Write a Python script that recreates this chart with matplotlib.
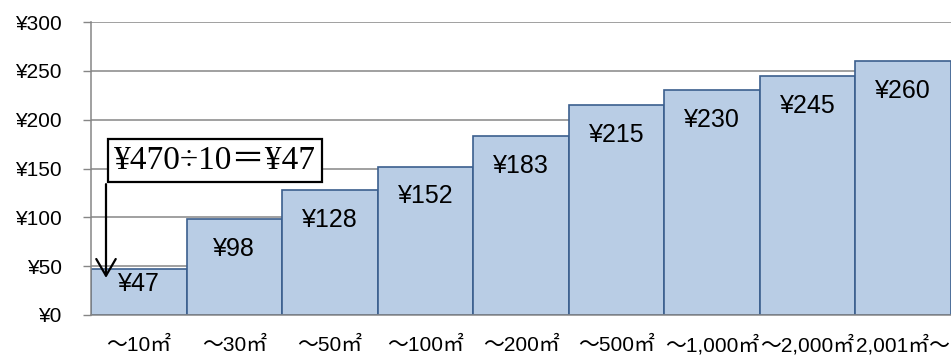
import matplotlib.pyplot as plt

# rate per 10 m3 block
categories = ['～10㎡', '～30㎡', '～50㎡', '～100㎡', '～200㎡',
              '～500㎡', '～1,000㎡', '～2,000㎡', '2,001㎡～']
prices = [47, 98, 128, 152, 183, 215, 230, 245, 260]
yticks = [0, 50, 100, 150, 200, 250, 300]

note_text = '¥470÷10＝¥47'

sans = ['Liberation Sans', 'Noto Sans CJK JP', 'DejaVu Sans']
serif = ['Liberation Serif', 'Noto Sans CJK JP', 'DejaVu Serif']

fig = plt.figure(figsize=(9.51, 3.55), dpi=100)
ax = fig.add_axes([91 / 951, 40 / 355, 860 / 951, 293 / 355])

x = [i + 0.5 for i in range(len(prices))]
ax.bar(x, prices, width=1.0, color='#B9CDE5', edgecolor='#3B5F8E',
       linewidth=1.2, zorder=2)

# data labels inside the top of each bar
for i, v in enumerate(prices):
    off = -10.5 if i == 0 else -21.5
    ax.annotate('¥{}'.format(v), (x[i], v), xytext=(0, off),
                textcoords='offset points', ha='center', va='center',
                fontsize=18, family=sans, color='black', zorder=3)

ax.set_xlim(0, len(prices))
ax.set_ylim(0, 300)
ax.set_yticks(yticks)
ax.set_yticklabels(['¥{}'.format(t) for t in yticks], family=sans, fontsize=15)
ax.set_xticks(x)
ax.set_xticklabels(categories, family=sans, fontsize=15)
for lab in ax.get_xticklabels():
    lab.set_va('baseline')
ax.tick_params(axis='x', length=0, pad=26)
ax.tick_params(axis='y', length=6, width=1, color='#868686', pad=15)

ax.yaxis.grid(True, color='#868686', linewidth=1.1, zorder=0)
ax.set_axisbelow(True)
for s in ['top', 'right']:
    ax.spines[s].set_visible(False)
for s in ['left', 'bottom']:
    ax.spines[s].set_color('#868686')
    ax.spines[s].set_linewidth(1.1)

# explanatory note with arrow to the first bar
ax.text(1.30, 158, note_text, ha='center', va='center', fontsize=24,
        family=serif, color='black', zorder=5,
        bbox=dict(boxstyle='square,pad=0.18', facecolor='white',
                  edgecolor='black', linewidth=1.6))
ax.annotate('', xy=(0.157, 38), xytext=(0.157, 134),
            arrowprops=dict(arrowstyle='->,head_length=0.6,head_width=0.35',
                            mutation_scale=20, shrinkA=0, shrinkB=0,
                            color='black', linewidth=1.6), zorder=5)

fig.savefig('out.png', dpi=100)
